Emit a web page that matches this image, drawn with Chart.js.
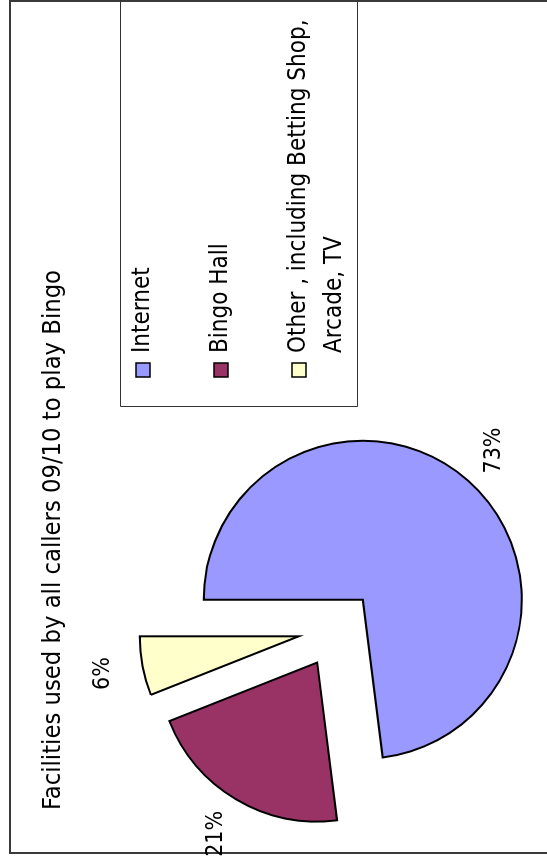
<!DOCTYPE html>
<html><head><meta charset="utf-8">
<script src="https://cdn.jsdelivr.net/npm/chart.js@4.4.1/dist/chart.umd.min.js"></script>
<style>
html,body{margin:0;padding:0;background:#fff;overflow:hidden;width:547px;height:857px}
#wrap{position:absolute;left:0;top:857px;width:857px;height:547px;transform-origin:0 0;transform:rotate(-90deg)}
canvas{display:block}
</style></head><body>
<div id="wrap"><canvas id="c" width="857" height="547"></canvas></div>
<script>
// ---- data ----
const titleText = 'Facilities used by all callers 09/10 to play Bingo';
const categories = ['Internet', 'Bingo Hall', ['Other , including Betting Shop,', 'Arcade, TV']];
const values = [73, 21, 6];
const colors = ['#9999FF', '#993366', '#FFFFCC'];

// ---- style ----
const FONT = "'DejaVu Sans Condensed', 'DejaVu Sans', sans-serif";
const EXPLODE = 39;
const RADIUS = 159;
const LABEL_GAP = 40;

const explodePlugin = {
  id: 'explode',
  afterDatasetsUpdate(chart) {
    const meta = chart.getDatasetMeta(0);
    meta.data.forEach(arc => {
      const mid = (arc.startAngle + arc.endAngle) / 2;
      arc.x += Math.cos(mid) * EXPLODE;
      arc.y += Math.sin(mid) * EXPLODE;
    });
  }
};

const decorPlugin = {
  id: 'decor',
  beforeDraw(chart) {
    const ctx = chart.ctx;
    const W = chart.width, H = chart.height;
    ctx.save();
    ctx.fillStyle = '#fff';
    ctx.fillRect(0, 0, W, H);
    // outer frame
    ctx.strokeStyle = '#3a3a3a';
    ctx.lineWidth = 2;
    ctx.beginPath();
    ctx.moveTo(4, H + 5); ctx.lineTo(4, 10); ctx.lineTo(856, 10); ctx.lineTo(856, H + 5);
    ctx.stroke();
    // title
    ctx.fillStyle = '#000';
    ctx.font = '25.3px ' + FONT;
    ctx.textAlign = 'center';
    ctx.textBaseline = 'alphabetic';
    ctx.fillText(titleText, 317, 60);
    // legend box
    ctx.strokeStyle = '#333';
    ctx.lineWidth = 1;
    ctx.beginPath();
    ctx.moveTo(W + 5, 120.5); ctx.lineTo(450.5, 120.5); ctx.lineTo(450.5, 357.5); ctx.lineTo(W + 5, 357.5);
    ctx.stroke();
    // legend items
    ctx.font = '24px ' + FONT;
    ctx.textAlign = 'left';
    ctx.textBaseline = 'middle';
    chart.data.labels.forEach((lab, i) => {
      const cy = 143 + i * 78;
      ctx.fillStyle = chart.data.datasets[0].backgroundColor[i];
      ctx.fillRect(480, cy - 7, 14, 14);
      ctx.strokeStyle = '#000';
      ctx.lineWidth = 1.5;
      ctx.strokeRect(480, cy - 7, 14, 14);
      ctx.fillStyle = '#000';
      const lines = Array.isArray(lab) ? lab : [lab];
      lines.forEach((ln, j) => ctx.fillText(ln, 504, cy + j * 36));
    });
    ctx.restore();
  },
  afterDatasetsDraw(chart) {
    const ctx = chart.ctx;
    const meta = chart.getDatasetMeta(0);
    ctx.save();
    ctx.fillStyle = '#000';
    ctx.font = '23px ' + FONT;
    ctx.textAlign = 'center';
    ctx.textBaseline = 'middle';
    meta.data.forEach((arc, i) => {
      const mid = (arc.startAngle + arc.endAngle) / 2;
      const r = arc.outerRadius + LABEL_GAP;
      ctx.fillText(values[i] + '%', arc.x + Math.cos(mid) * r, arc.y + Math.sin(mid) * r);
    });
    ctx.restore();
  }
};

new Chart(document.getElementById('c'), {
  type: 'pie',
  data: {
    labels: categories,
    datasets: [{
      data: values,
      backgroundColor: colors,
      borderColor: '#000',
      borderWidth: 2,
      borderJoinStyle: 'miter',
      radius: RADIUS
    }]
  },
  options: {
    responsive: false,
    animation: false,
    events: [],
    layout: { padding: { left: 0, right: 401, top: 127, bottom: 0 } },
    plugins: { legend: { display: false }, title: { display: false }, tooltip: { enabled: false } }
  },
  plugins: [explodePlugin, decorPlugin]
});
</script>
</body></html>
